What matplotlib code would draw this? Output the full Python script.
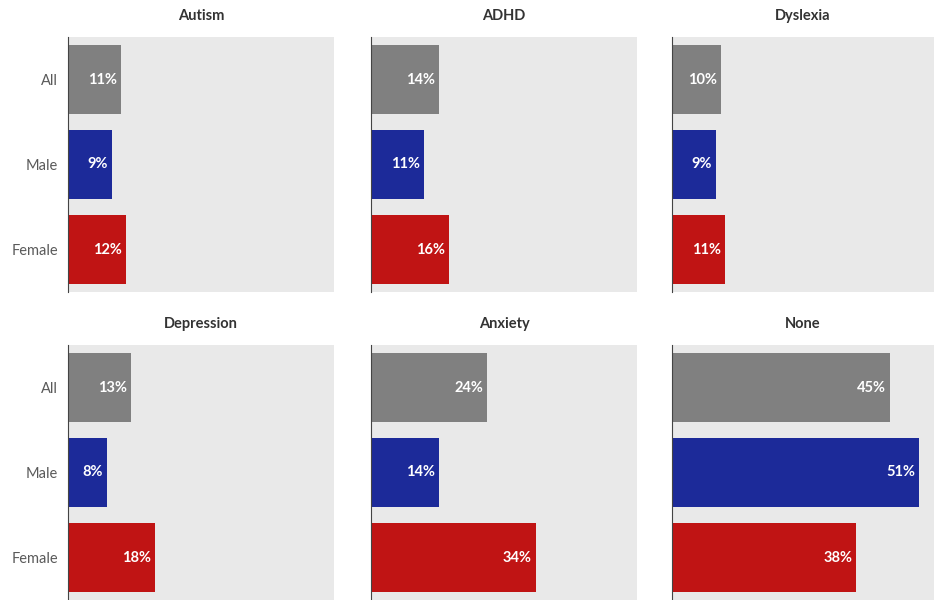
import matplotlib.pyplot as plt

# data
groups = ['All', 'Male', 'Female']
conditions = ['Autism', 'ADHD', 'Dyslexia', 'Depression', 'Anxiety', 'None']
autism = [11, 9, 12]
adhd = [14, 11, 16]
dyslexia = [10, 9, 11]
depression = [13, 8, 18]
anxiety = [24, 14, 34]
none = [45, 51, 38]
values = [autism, adhd, dyslexia, depression, anxiety, none]

colors = ['#808080', '#1c2a99', '#c01414']

plt.rcParams['font.family'] = ['Lato', 'DejaVu Sans']

fig = plt.figure(figsize=(9.34, 6.0), dpi=100)

# panel positions in pixels (left edges, widths, top edges)
lefts = [68, 371, 672]
widths = [266, 266, 262]
tops = [37, 345]
h_px = 255
px_per_pct = 4.85

for i, (name, vals) in enumerate(zip(conditions, values)):
    row, col = divmod(i, 3)
    w_px = widths[col]
    ax = fig.add_axes([lefts[col] / 934, 1 - (tops[row] + h_px) / 600,
                       w_px / 934, h_px / 600])
    ax.set_facecolor('#e9e9e9')
    ys = range(len(groups))
    ax.barh(ys, vals, height=0.81, color=colors)
    for y, v in zip(ys, vals):
        ax.text(v - 0.8, y, '%d%%' % v, ha='right', va='center',
                color='white', fontweight='bold', fontsize=10.5)
    ax.set_xlim(0, w_px / px_per_pct)
    ax.set_ylim(2.5, -0.5)
    ax.set_xticks([])
    ax.set_yticks(list(ys))
    if col == 0:
        ax.set_yticklabels(groups, fontsize=10.5, color='#5a5a5a')
    else:
        ax.set_yticklabels([])
    ax.tick_params(axis='y', length=0, pad=7)
    for s in ['top', 'right', 'bottom']:
        ax.spines[s].set_visible(False)
    ax.spines['left'].set_color('#444444')
    ax.spines['left'].set_linewidth(0.8)
    ax.set_title(name, fontsize=10.5, fontweight='bold', color='#333333', pad=12)

plt.savefig('out.png', dpi=100)
